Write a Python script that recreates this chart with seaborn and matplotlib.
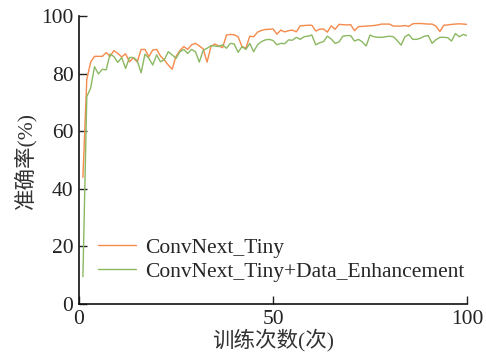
import numpy as np
import pandas as pd
import seaborn as sns
import matplotlib
matplotlib.use("Agg")
import matplotlib.pyplot as plt

epochs = list(range(1, 101))

acc_base = [
    44.0, 78.0, 84.0, 86.0, 86.0, 86.0, 87.3, 86.0, 88.0, 87.0,
    85.8, 86.9, 84.1, 85.5, 84.0, 88.4, 88.4, 85.9, 88.2, 88.4,
    86.1, 84.7, 83.0, 81.5, 86.0, 88.0, 89.4, 88.4, 90.0, 90.5,
    89.6, 88.6, 84.0, 89.4, 90.3, 89.6, 89.0, 93.4, 93.6, 93.5,
    92.8, 89.4, 88.8, 93.0, 92.8, 94.4, 95.0, 95.3, 95.4, 95.5,
    93.7, 95.1, 94.5, 94.9, 95.1, 94.5, 96.6, 96.7, 96.8, 96.8,
    94.8, 95.4, 95.5, 94.4, 96.6, 95.4, 97.1, 97.0, 96.9, 97.0,
    94.9, 96.3, 96.4, 96.5, 96.6, 96.7, 96.9, 97.2, 97.2, 97.2,
    96.5, 96.5, 96.5, 96.7, 96.4, 97.3, 97.4, 97.4, 97.3, 97.2,
    97.2, 96.5, 94.6, 96.8, 96.9, 97.1, 97.2, 97.3, 97.2, 97.1,
]

acc_aug = [
    9.5, 72.0, 75.0, 82.4, 79.9, 81.5, 81.3, 86.8, 85.9, 83.9,
    85.6, 81.8, 85.6, 85.6, 84.5, 80.3, 86.8, 85.3, 83.0, 86.5,
    84.1, 84.9, 87.6, 86.5, 85.3, 87.6, 88.4, 87.0, 88.4, 87.6,
    84.0, 88.1, 88.8, 89.7, 89.6, 89.4, 90.0, 88.8, 90.5, 90.3,
    87.4, 89.4, 88.4, 90.5, 87.6, 90.0, 91.1, 91.7, 91.9, 91.5,
    90.0, 90.5, 90.4, 91.7, 91.6, 92.6, 91.9, 92.8, 93.0, 93.4,
    90.0, 90.7, 91.1, 93.0, 92.0, 90.5, 91.0, 93.0, 93.2, 93.2,
    91.3, 91.9, 91.0, 89.6, 93.4, 92.8, 92.6, 92.6, 92.8, 93.0,
    92.8, 91.5, 89.9, 92.8, 93.6, 91.9, 91.9, 92.3, 93.0, 93.2,
    90.5, 91.8, 92.6, 92.6, 92.5, 91.3, 93.9, 92.8, 93.6, 93.2,
]

series_names = ["ConvNext_Tiny", "ConvNext_Tiny+Data_Enhancement"]
colors = ["#F58A4B", "#8BB862"]
x_ticks = [0, 50, 100]
y_ticks = [0, 20, 40, 60, 80, 100]

df = pd.DataFrame({
    "epoch": epochs * 2,
    "acc": acc_base + acc_aug,
    "model": [series_names[0]] * len(epochs) + [series_names[1]] * len(epochs),
})

sns.set_theme(style="ticks")
plt.rcParams["font.family"] = ["Liberation Serif", "Noto Sans CJK SC"]

FS = 15.5

fig = plt.figure(figsize=(4.86, 3.56), dpi=100)
ax = fig.add_axes([0.1626, 0.146, 0.7984, 0.809])

sns.lineplot(data=df, x="epoch", y="acc", hue="model", hue_order=series_names,
             palette=colors, linewidth=1.0, ax=ax)

ax.set_xlim(0, 100)
ax.set_ylim(0, 100)
ax.set_xticks(x_ticks)
ax.set_yticks(y_ticks)
ax.tick_params(direction="in", length=6, width=1, labelsize=FS, colors="#222222",
               pad=4)
for s in ("top", "right"):
    ax.spines[s].set_visible(False)
for s in ("left", "bottom"):
    ax.spines[s].set_color("#111111")
    ax.spines[s].set_linewidth(1.2)

ax.set_xlabel("训练次数(次)", fontsize=FS, labelpad=0, color="#333333")
ax.set_ylabel("准确率(%)", fontsize=FS, labelpad=3, color="#333333")

ax.legend(loc="lower left", bbox_to_anchor=(0.01, 0.025), frameon=False,
          fontsize=FS, handlelength=1.75, handletextpad=0.45, labelspacing=0.18,
          borderaxespad=0.3)

fig.savefig("out.png", dpi=100, facecolor="white")
